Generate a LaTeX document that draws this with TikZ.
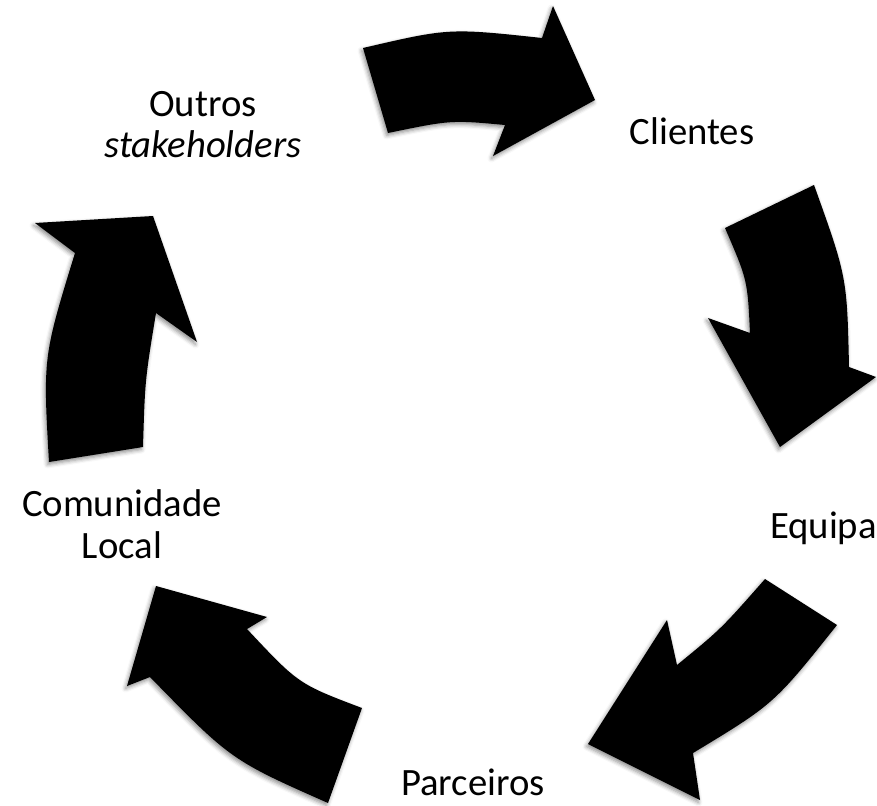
\documentclass[tikz,border=0pt]{standalone}
\usepackage{fontspec}
\setmainfont{Carlito}
\usetikzlibrary{shadows.blur}
\begin{document}
\begin{tikzpicture}[x=1pt,y=-1pt,
  blockarrow/.style={fill=black, blur shadow={shadow xshift=-1.5pt, shadow yshift=-2.5pt, shadow blur radius=4pt, shadow opacity=45}},
  lbl/.style={font=\fontsize{38.7}{41.5}\selectfont, anchor=base, align=center, inner sep=0pt}]
\useasboundingbox (0,0) rectangle (877,805);
% arrow 1 (top)
\path[blockarrow] (363,48) .. controls (449,28) .. (542,38) -- (553,6) -- (595,100) -- (493,156) -- (505,125) .. controls (451,120) .. (388,133) -- cycle;
% arrow 2 (right)
\path[blockarrow] (725,228) -- (814,185) .. controls (847,277) .. (849,367) -- (876,377) -- (780,447) -- (708,318) -- (750,333) .. controls (747.5,280) .. (725,228) -- cycle;
% arrow 3 (lower right)
\path[blockarrow] (765,579) -- (837,625) .. controls (774,704) .. (693,753) -- (700,800) -- (588,744) -- (667,620) -- (677,665) .. controls (721,629) .. (765,579) -- cycle;
% arrow 4 (lower left)
\path[blockarrow] (362,708) -- (328,803) .. controls (231,760) .. (150,677) -- (127,686) -- (156,586) -- (267,617) -- (247,629) .. controls (298.5,684) .. (362,708) -- cycle;
% arrow 5 (left)
\path[blockarrow] (49,462) -- (143,447) .. controls (145,380) .. (156,313) -- (197,342) -- (153,216) -- (35,223) -- (75,253) .. controls (43,357) .. (49,462) -- cycle;
% labels
\node[lbl] (outros) at (203,158) {Outros\\{\itshape stakeholders}};
\node[lbl] (clientes) at (692,145) {Clientes};
\node[lbl] (equipa) at (823.5,538) {Equipa};
\node[lbl] (parceiros) at (473,795) {Parceiros};
\node[lbl] (comunidade) at (122,558) {Comunidade\\Local};
\end{tikzpicture}
\end{document}
